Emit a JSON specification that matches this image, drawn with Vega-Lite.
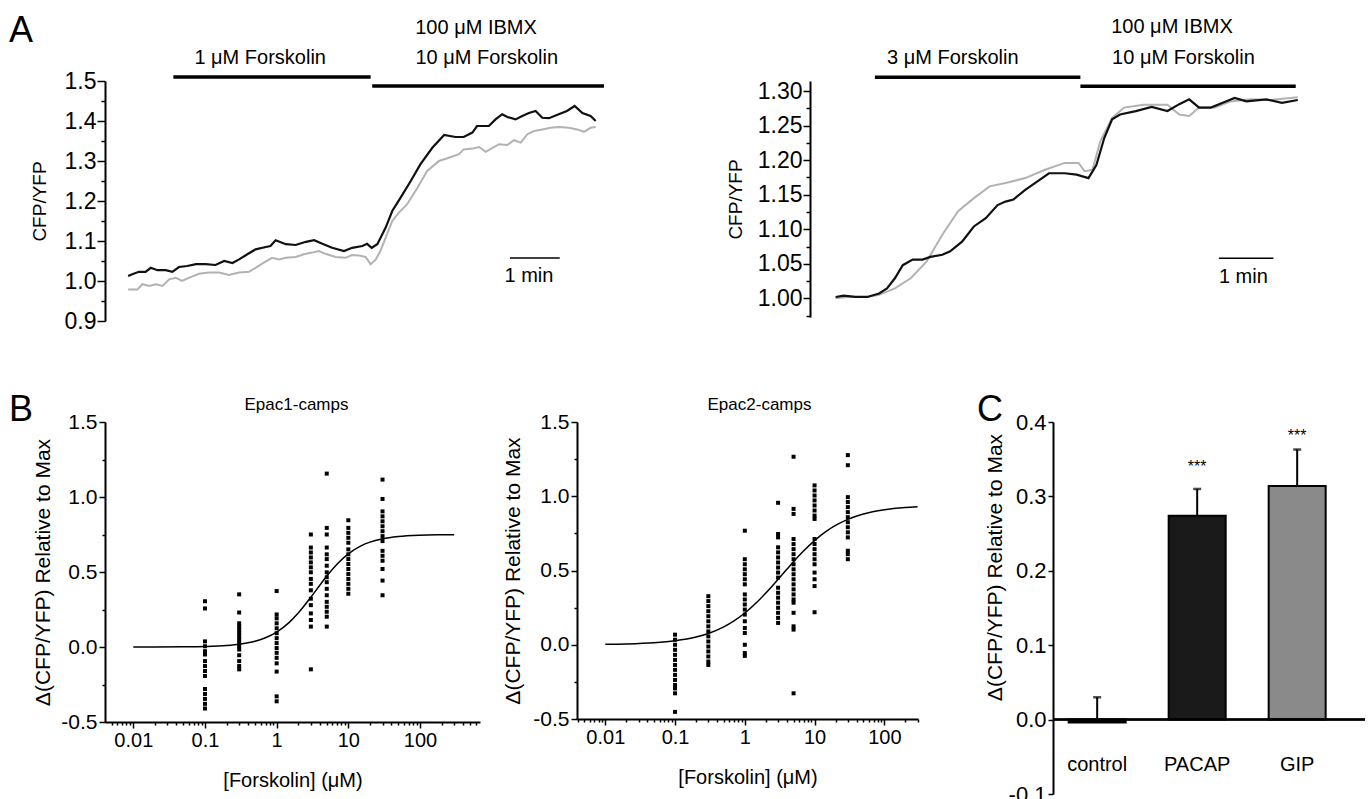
{
"$schema": "https://vega.github.io/schema/vega-lite/v6.json",
"background": "white",
"padding": {"left": 9, "top": 12, "right": 0, "bottom": 0},
"config": {
  "view": {"stroke": null},
  "font": "Liberation Sans",
  "axis": {"domainColor": "black", "tickColor": "black", "labelColor": "black", "titleColor": "black", "grid": false, "titleFontWeight": "normal", "labelFont": "Liberation Sans", "titleFont": "Liberation Sans", "domainWidth": 2, "tickWidth": 1.5, "labelOverlap": false, "labelFlush": false, "labelBound": false},
  "title": {"fontWeight": "normal", "color": "black", "font": "Liberation Sans"},
  "text": {"font": "Liberation Sans", "color": "black"}
},
"datasets": {
  "a1k": [{"t":-0.05,"v":1.0125},{"t":0.03,"v":1.017},{"t":0.16,"v":1.023},{"t":0.29,"v":1.023},{"t":0.39,"v":1.033},{"t":0.52,"v":1.027},{"t":0.68,"v":1.027},{"t":0.81,"v":1.023},{"t":0.94,"v":1.035},{"t":1.10,"v":1.0375},{"t":1.27,"v":1.042},{"t":1.46,"v":1.042},{"t":1.65,"v":1.04},{"t":1.82,"v":1.05},{"t":1.98,"v":1.045},{"t":2.11,"v":1.054},{"t":2.27,"v":1.067},{"t":2.43,"v":1.079},{"t":2.63,"v":1.085},{"t":2.72,"v":1.0875},{"t":2.82,"v":1.102},{"t":3.02,"v":1.092},{"t":3.21,"v":1.09},{"t":3.41,"v":1.098},{"t":3.57,"v":1.102},{"t":3.73,"v":1.093},{"t":3.92,"v":1.083},{"t":4.15,"v":1.075},{"t":4.31,"v":1.083},{"t":4.51,"v":1.0875},{"t":4.60,"v":1.093},{"t":4.69,"v":1.083},{"t":4.80,"v":1.092},{"t":4.96,"v":1.133},{"t":5.09,"v":1.175},{"t":5.25,"v":1.208},{"t":5.45,"v":1.25},{"t":5.64,"v":1.292},{"t":5.87,"v":1.333},{"t":6.10,"v":1.365},{"t":6.32,"v":1.36},{"t":6.48,"v":1.36},{"t":6.65,"v":1.371},{"t":6.74,"v":1.3875},{"t":6.97,"v":1.3875},{"t":7.10,"v":1.404},{"t":7.23,"v":1.417},{"t":7.33,"v":1.41},{"t":7.49,"v":1.404},{"t":7.62,"v":1.4125},{"t":7.75,"v":1.42},{"t":7.88,"v":1.425},{"t":8.01,"v":1.408},{"t":8.14,"v":1.407},{"t":8.33,"v":1.417},{"t":8.49,"v":1.425},{"t":8.64,"v":1.4375},{"t":8.79,"v":1.42},{"t":8.95,"v":1.4125},{"t":9.05,"v":1.40}],
  "a1g": [{"t":-0.05,"v":0.979},{"t":0.13,"v":0.979},{"t":0.23,"v":0.992},{"t":0.36,"v":0.9875},{"t":0.49,"v":0.992},{"t":0.62,"v":0.9875},{"t":0.75,"v":1.004},{"t":0.88,"v":1.008},{"t":1.0,"v":1.0},{"t":1.13,"v":1.008},{"t":1.33,"v":1.018},{"t":1.52,"v":1.021},{"t":1.72,"v":1.021},{"t":1.91,"v":1.015},{"t":2.11,"v":1.021},{"t":2.30,"v":1.023},{"t":2.43,"v":1.033},{"t":2.59,"v":1.046},{"t":2.75,"v":1.058},{"t":2.89,"v":1.054},{"t":3.02,"v":1.058},{"t":3.21,"v":1.06},{"t":3.37,"v":1.067},{"t":3.53,"v":1.071},{"t":3.66,"v":1.075},{"t":3.79,"v":1.068},{"t":3.99,"v":1.06},{"t":4.18,"v":1.058},{"t":4.31,"v":1.065},{"t":4.44,"v":1.064},{"t":4.57,"v":1.06},{"t":4.67,"v":1.042},{"t":4.77,"v":1.054},{"t":4.86,"v":1.075},{"t":4.99,"v":1.117},{"t":5.09,"v":1.15},{"t":5.22,"v":1.171},{"t":5.38,"v":1.192},{"t":5.58,"v":1.233},{"t":5.77,"v":1.275},{"t":6.0,"v":1.30},{"t":6.19,"v":1.308},{"t":6.39,"v":1.317},{"t":6.48,"v":1.329},{"t":6.65,"v":1.331},{"t":6.78,"v":1.335},{"t":6.91,"v":1.323},{"t":7.04,"v":1.333},{"t":7.17,"v":1.342},{"t":7.33,"v":1.34},{"t":7.46,"v":1.352},{"t":7.59,"v":1.346},{"t":7.72,"v":1.367},{"t":7.85,"v":1.375},{"t":8.01,"v":1.379},{"t":8.17,"v":1.383},{"t":8.33,"v":1.385},{"t":8.53,"v":1.383},{"t":8.69,"v":1.379},{"t":8.82,"v":1.373},{"t":8.95,"v":1.383},{"t":9.05,"v":1.385}],
  "a1bars": [{"t0":0.83,"t1":4.67,"y":1.51},{"t0":4.70,"t1":9.21,"y":1.4875}],
  "a1text": [{"t":2.52,"y":1.5575,"label":"1 μM Forskolin"},{"t":6.72,"y":1.6325,"label":"100 μM IBMX"},{"t":6.93,"y":1.5575,"label":"10 μM Forskolin"},{"t":7.75,"y":1.0125,"label":"1 min"}],
  "a1scale": [{"t0":7.38,"t1":8.35,"y":1.0575}],
  "a2k": [{"t":0,"v":1.002},{"t":0.145,"v":1.004},{"t":0.362,"v":1.002},{"t":0.58,"v":1.002},{"t":0.797,"v":1.007},{"t":0.942,"v":1.0145},{"t":1.087,"v":1.029},{"t":1.232,"v":1.048},{"t":1.413,"v":1.056},{"t":1.594,"v":1.056},{"t":1.739,"v":1.06},{"t":1.957,"v":1.063},{"t":2.101,"v":1.068},{"t":2.319,"v":1.082},{"t":2.536,"v":1.104},{"t":2.754,"v":1.116},{"t":2.971,"v":1.135},{"t":3.116,"v":1.14},{"t":3.261,"v":1.143},{"t":3.478,"v":1.157},{"t":3.696,"v":1.169},{"t":3.913,"v":1.181},{"t":4.203,"v":1.181},{"t":4.42,"v":1.179},{"t":4.638,"v":1.174},{"t":4.783,"v":1.193},{"t":4.928,"v":1.232},{"t":5.072,"v":1.259},{"t":5.217,"v":1.266},{"t":5.507,"v":1.271},{"t":5.797,"v":1.277},{"t":6.087,"v":1.271},{"t":6.304,"v":1.281},{"t":6.486,"v":1.288},{"t":6.667,"v":1.276},{"t":6.884,"v":1.276},{"t":7.101,"v":1.283},{"t":7.319,"v":1.29},{"t":7.536,"v":1.285},{"t":7.899,"v":1.288},{"t":8.188,"v":1.283},{"t":8.478,"v":1.287}],
  "a2g": [{"t":0,"v":1.0},{"t":0.217,"v":1.002},{"t":0.58,"v":1.002},{"t":0.797,"v":1.005},{"t":1.087,"v":1.0145},{"t":1.377,"v":1.029},{"t":1.667,"v":1.053},{"t":1.957,"v":1.092},{"t":2.246,"v":1.126},{"t":2.536,"v":1.145},{"t":2.826,"v":1.162},{"t":3.116,"v":1.167},{"t":3.478,"v":1.174},{"t":3.841,"v":1.186},{"t":4.203,"v":1.196},{"t":4.457,"v":1.196},{"t":4.565,"v":1.184},{"t":4.71,"v":1.186},{"t":4.855,"v":1.227},{"t":5.072,"v":1.261},{"t":5.29,"v":1.276},{"t":5.652,"v":1.28},{"t":6.087,"v":1.28},{"t":6.304,"v":1.266},{"t":6.486,"v":1.264},{"t":6.667,"v":1.276},{"t":6.957,"v":1.276},{"t":7.246,"v":1.285},{"t":7.609,"v":1.288},{"t":7.971,"v":1.287},{"t":8.478,"v":1.291}],
  "a2bars": [{"t0":0.72,"t1":4.49,"y":1.320},{"t0":4.49,"t1":8.44,"y":1.307}],
  "a2text": [{"t":2.15,"y":1.348,"label":"3 μM Forskolin"},{"t":6.17,"y":1.393,"label":"100 μM IBMX"},{"t":6.38,"y":1.348,"label":"10 μM Forskolin"},{"t":7.48,"y":1.031,"label":"1 min"}],
  "a2scale": [{"t0":7.03,"t1":8.03,"y":1.058}],
  "b1pts": [
    {"c":0.1,"v":0.305},{"c":0.1,"v":0.257},{"c":0.1,"v":0.0375},{"c":0.1,"v":0.005},{"c":0.1,"v":-0.028},{"c":0.1,"v":-0.05},{"c":0.1,"v":-0.094},{"c":0.1,"v":-0.127},{"c":0.1,"v":-0.16},{"c":0.1,"v":-0.193},{"c":0.1,"v":-0.28},{"c":0.1,"v":-0.313},{"c":0.1,"v":-0.346},{"c":0.1,"v":-0.379},{"c":0.1,"v":-0.41},
    {"c":0.3,"v":0.351},{"c":0.3,"v":0.23},{"c":0.3,"v":0.158},{"c":0.3,"v":0.136},{"c":0.3,"v":0.114},{"c":0.3,"v":0.092},{"c":0.3,"v":0.07},{"c":0.3,"v":0.048},{"c":0.3,"v":0.026},{"c":0.3,"v":0.005},{"c":0.3,"v":-0.017},{"c":0.3,"v":-0.055},{"c":0.3,"v":-0.094},{"c":0.3,"v":-0.127},{"c":0.3,"v":-0.149},
    {"c":1,"v":0.373},{"c":1,"v":0.217},{"c":1,"v":0.191},{"c":1,"v":0.158},{"c":1,"v":0.125},{"c":1,"v":0.092},{"c":1,"v":0.059},{"c":1,"v":0.026},{"c":1,"v":-0.007},{"c":1,"v":-0.039},{"c":1,"v":-0.072},{"c":1,"v":-0.109},{"c":1,"v":-0.164},{"c":1,"v":-0.329},{"c":1,"v":-0.362},
    {"c":3,"v":0.75},{"c":3,"v":0.663},{"c":3,"v":0.63},{"c":3,"v":0.597},{"c":3,"v":0.564},{"c":3,"v":0.531},{"c":3,"v":0.498},{"c":3,"v":0.454},{"c":3,"v":0.421},{"c":3,"v":0.378},{"c":3,"v":0.322},{"c":3,"v":0.279},{"c":3,"v":0.224},{"c":3,"v":0.18},{"c":3,"v":0.136},{"c":3,"v":-0.149},
    {"c":5,"v":1.156},{"c":5,"v":0.794},{"c":5,"v":0.75},{"c":5,"v":0.663},{"c":5,"v":0.618},{"c":5,"v":0.586},{"c":5,"v":0.542},{"c":5,"v":0.498},{"c":5,"v":0.465},{"c":5,"v":0.432},{"c":5,"v":0.388},{"c":5,"v":0.345},{"c":5,"v":0.301},{"c":5,"v":0.268},{"c":5,"v":0.235},{"c":5,"v":0.202},{"c":5,"v":0.136},
    {"c":10,"v":0.845},{"c":10,"v":0.794},{"c":10,"v":0.761},{"c":10,"v":0.728},{"c":10,"v":0.695},{"c":10,"v":0.651},{"c":10,"v":0.618},{"c":10,"v":0.586},{"c":10,"v":0.553},{"c":10,"v":0.52},{"c":10,"v":0.487},{"c":10,"v":0.454},{"c":10,"v":0.421},{"c":10,"v":0.388},{"c":10,"v":0.355},
    {"c":30,"v":1.116},{"c":30,"v":0.987},{"c":30,"v":0.904},{"c":30,"v":0.871},{"c":30,"v":0.838},{"c":30,"v":0.805},{"c":30,"v":0.772},{"c":30,"v":0.739},{"c":30,"v":0.706},{"c":30,"v":0.641},{"c":30,"v":0.608},{"c":30,"v":0.575},{"c":30,"v":0.52},{"c":30,"v":0.443},{"c":30,"v":0.345}],
  "b1fit": [{"c":0.01,"v":0.0001},{"c":0.02,"v":0.0003},{"c":0.05,"v":0.0013},{"c":0.1,"v":0.0036},{"c":0.2,"v":0.0101},{"c":0.3,"v":0.0183},{"c":0.5,"v":0.0384},{"c":0.7,"v":0.0616},{"c":1,"v":0.0993},{"c":1.5,"v":0.164},{"c":2,"v":0.226},{"c":3,"v":0.332},{"c":4,"v":0.412},{"c":5,"v":0.473},{"c":7,"v":0.554},{"c":10,"v":0.621},{"c":15,"v":0.674},{"c":20,"v":0.699},{"c":30,"v":0.721},{"c":50,"v":0.736},{"c":100,"v":0.745},{"c":200,"v":0.748},{"c":300,"v":0.749}],
  "b2pts": [
    {"c":0.1,"v":0.068},{"c":0.1,"v":0.034},{"c":0.1,"v":0.0},{"c":0.1,"v":-0.034},{"c":0.1,"v":-0.068},{"c":0.1,"v":-0.102},{"c":0.1,"v":-0.136},{"c":0.1,"v":-0.169},{"c":0.1,"v":-0.203},{"c":0.1,"v":-0.237},{"c":0.1,"v":-0.271},{"c":0.1,"v":-0.294},{"c":0.1,"v":-0.327},{"c":0.1,"v":-0.452},
    {"c":0.3,"v":0.327},{"c":0.3,"v":0.294},{"c":0.3,"v":0.26},{"c":0.3,"v":0.226},{"c":0.3,"v":0.192},{"c":0.3,"v":0.158},{"c":0.3,"v":0.124},{"c":0.3,"v":0.09},{"c":0.3,"v":0.056},{"c":0.3,"v":0.022},{"c":0.3,"v":-0.012},{"c":0.3,"v":-0.045},{"c":0.3,"v":-0.079},{"c":0.3,"v":-0.113},{"c":0.3,"v":-0.136},
    {"c":1,"v":0.768},{"c":1,"v":0.576},{"c":1,"v":0.542},{"c":1,"v":0.508},{"c":1,"v":0.475},{"c":1,"v":0.441},{"c":1,"v":0.407},{"c":1,"v":0.339},{"c":1,"v":0.305},{"c":1,"v":0.271},{"c":1,"v":0.237},{"c":1,"v":0.203},{"c":1,"v":0.158},{"c":1,"v":0.113},{"c":1,"v":0.079},{"c":1,"v":0.0},{"c":1,"v":-0.056},{"c":1,"v":-0.075},
    {"c":3,"v":0.956},{"c":3,"v":0.746},{"c":3,"v":0.723},{"c":3,"v":0.656},{"c":3,"v":0.622},{"c":3,"v":0.588},{"c":3,"v":0.554},{"c":3,"v":0.52},{"c":3,"v":0.486},{"c":3,"v":0.452},{"c":3,"v":0.384},{"c":3,"v":0.35},{"c":3,"v":0.317},{"c":3,"v":0.283},{"c":3,"v":0.249},{"c":3,"v":0.215},{"c":3,"v":0.181},{"c":3,"v":0.147},
    {"c":5,"v":1.266},{"c":5,"v":0.915},{"c":5,"v":0.881},{"c":5,"v":0.712},{"c":5,"v":0.678},{"c":5,"v":0.644},{"c":5,"v":0.61},{"c":5,"v":0.576},{"c":5,"v":0.542},{"c":5,"v":0.508},{"c":5,"v":0.475},{"c":5,"v":0.441},{"c":5,"v":0.407},{"c":5,"v":0.373},{"c":5,"v":0.339},{"c":5,"v":0.305},{"c":5,"v":0.283},{"c":5,"v":0.215},{"c":5,"v":0.124},{"c":5,"v":0.102},{"c":5,"v":-0.327},
    {"c":10,"v":1.073},{"c":10,"v":1.039},{"c":10,"v":1.005},{"c":10,"v":0.972},{"c":10,"v":0.938},{"c":10,"v":0.904},{"c":10,"v":0.87},{"c":10,"v":0.847},{"c":10,"v":0.712},{"c":10,"v":0.678},{"c":10,"v":0.644},{"c":10,"v":0.61},{"c":10,"v":0.576},{"c":10,"v":0.542},{"c":10,"v":0.486},{"c":10,"v":0.441},{"c":10,"v":0.395},{"c":10,"v":0.219},
    {"c":30,"v":1.277},{"c":30,"v":1.209},{"c":30,"v":0.994},{"c":30,"v":0.961},{"c":30,"v":0.927},{"c":30,"v":0.893},{"c":30,"v":0.859},{"c":30,"v":0.825},{"c":30,"v":0.791},{"c":30,"v":0.757},{"c":30,"v":0.723},{"c":30,"v":0.633},{"c":30,"v":0.61},{"c":30,"v":0.576}],
  "b2fit": [{"c":0.01,"v":0.0028},{"c":0.02,"v":0.0055},{"c":0.05,"v":0.0136},{"c":0.1,"v":0.0269},{"c":0.2,"v":0.0522},{"c":0.3,"v":0.0762},{"c":0.5,"v":0.1205},{"c":0.7,"v":0.1605},{"c":1,"v":0.2136},{"c":1.5,"v":0.2878},{"c":2,"v":0.3481},{"c":3,"v":0.4406},{"c":4,"v":0.5081},{"c":5,"v":0.5595},{"c":7,"v":0.6327},{"c":10,"v":0.7015},{"c":15,"v":0.7663},{"c":20,"v":0.8034},{"c":30,"v":0.8443},{"c":50,"v":0.8801},{"c":100,"v":0.9091},{"c":200,"v":0.9243},{"c":300,"v":0.9295}],
  "cbars": [{"cond":"control","mean":-0.004,"upper":0.03,"sig":"","sy":0.1},{"cond":"PACAP","mean":0.274,"upper":0.31,"sig":"***","sy":0.34},{"cond":"GIP","mean":0.314,"upper":0.363,"sig":"***","sy":0.381}]
},
"spacing": 59,
"vconcat": [
  {
    "hconcat": [
      {
        "width": 501, "height": 240,
        "title": {"text": "A", "fontSize": 36, "anchor": "start", "frame": "group", "dx": -96, "offset": -32},
        "layer": [
          {"data": {"name": "a1g"}, "mark": {"type": "line", "color": "#b2b2b2", "strokeWidth": 2},
           "encoding": {
             "x": {"field": "t", "type": "quantitative", "scale": {"domain": [-0.5, 9.25], "nice": false, "zero": false}, "axis": null},
             "y": {"field": "v", "type": "quantitative", "scale": {"domain": [0.9, 1.5], "nice": false, "zero": false},
                   "axis": {"title": "CFP/YFP", "titleFontSize": 19, "titlePadding": 15, "labelFontSize": 23, "labelPadding": 1, "labelOverlap": false, "tickCount": 200,
                            "values": [0.9,0.95,1.0,1.05,1.1,1.15,1.2,1.25,1.3,1.35,1.4,1.45,1.5],
                            "labelExpr": "abs(datum.value*10-round(datum.value*10))<0.01 ? format(datum.value,'.1f') : ''",
                            "tickSize": {"condition": {"test": "abs(datum.value*10-round(datum.value*10))<0.01", "value": 8}, "value": 4}}}}},
          {"data": {"name": "a1k"}, "mark": {"type": "line", "color": "#111111", "strokeWidth": 2.2},
           "encoding": {"x": {"field": "t", "type": "quantitative"}, "y": {"field": "v", "type": "quantitative"}}},
          {"data": {"name": "a1bars"}, "mark": {"type": "rule", "color": "black", "strokeWidth": 3.5},
           "encoding": {"x": {"field": "t0", "type": "quantitative"}, "x2": {"field": "t1"}, "y": {"field": "y", "type": "quantitative"}}},
          {"data": {"name": "a1scale"}, "mark": {"type": "rule", "color": "black", "strokeWidth": 1.5},
           "encoding": {"x": {"field": "t0", "type": "quantitative"}, "x2": {"field": "t1"}, "y": {"field": "y", "type": "quantitative"}}},
          {"data": {"name": "a1text"}, "mark": {"type": "text", "fontSize": 20},
           "encoding": {"x": {"field": "t", "type": "quantitative"}, "y": {"field": "y", "type": "quantitative"}, "text": {"field": "label"}}}
        ]
      },
      {
        "width": 489, "height": 236,
        "layer": [
          {"data": {"name": "a2g"}, "mark": {"type": "line", "color": "#b2b2b2", "strokeWidth": 2},
           "encoding": {
             "x": {"field": "t", "type": "quantitative", "scale": {"domain": [-0.47, 8.5], "nice": false, "zero": false}, "axis": null},
             "y": {"field": "v", "type": "quantitative", "scale": {"domain": [0.973, 1.3145], "nice": false, "zero": false},
                   "axis": {"title": "CFP/YFP", "titleFontSize": 19, "titlePadding": 12, "labelFontSize": 23, "labelPadding": 1, "labelOverlap": false, "tickCount": 200,
                            "values": [0.975,1.0,1.025,1.05,1.075,1.1,1.125,1.15,1.175,1.2,1.225,1.25,1.275,1.3],
                            "labelExpr": "abs(datum.value*20-round(datum.value*20))<0.01 ? format(datum.value,'.2f') : ''",
                            "tickSize": {"condition": {"test": "abs(datum.value*20-round(datum.value*20))<0.01", "value": 7}, "value": 4}}}}},
          {"data": {"name": "a2k"}, "mark": {"type": "line", "color": "#111111", "strokeWidth": 2.2},
           "encoding": {"x": {"field": "t", "type": "quantitative"}, "y": {"field": "v", "type": "quantitative"}}},
          {"data": {"name": "a2bars"}, "mark": {"type": "rule", "color": "black", "strokeWidth": 3.5},
           "encoding": {"x": {"field": "t0", "type": "quantitative"}, "x2": {"field": "t1"}, "y": {"field": "y", "type": "quantitative"}}},
          {"data": {"name": "a2scale"}, "mark": {"type": "rule", "color": "black", "strokeWidth": 1.5},
           "encoding": {"x": {"field": "t0", "type": "quantitative"}, "x2": {"field": "t1"}, "y": {"field": "y", "type": "quantitative"}}},
          {"data": {"name": "a2text"}, "mark": {"type": "text", "fontSize": 20},
           "encoding": {"x": {"field": "t", "type": "quantitative"}, "y": {"field": "y", "type": "quantitative"}, "text": {"field": "label"}}}
        ]
      }
    ],
    "spacing": 204,
    "bounds": "flush"
  },
  {
    "hconcat": [
      {
        "title": {"text": "B", "fontSize": 36, "anchor": "start", "frame": "group", "dx": -96, "dy": 37},
        "hconcat": [
          {
            "width": 375, "height": 300,
            "title": {"text": "Epac1-camps", "fontSize": 17, "anchor": "middle", "frame": "group", "offset": -3, "dx": 4},
            "layer": [
              {"data": {"name": "b1fit"}, "mark": {"type": "line", "color": "black", "strokeWidth": 1.5, "interpolate": "monotone"},
               "encoding": {
                 "x": {"field": "c", "type": "quantitative", "scale": {"type": "log", "domain": [0.00403, 687], "nice": false},
                       "axis": {"title": "[Forskolin] (μM)", "titleFontSize": 20, "titlePadding": 20, "labelFontSize": 20, "labelPadding": 2, "labelOverlap": false, "tickCount": 200,
                                "values": [0.005,0.006,0.007,0.008,0.009,0.01,0.02,0.03,0.04,0.05,0.06,0.07,0.08,0.09,0.1,0.2,0.3,0.4,0.5,0.6,0.7,0.8,0.9,1,2,3,4,5,6,7,8,9,10,20,30,40,50,60,70,80,90,100,200,300,400,500,600],
                                "labelExpr": "abs(log(datum.value)/LN10-round(log(datum.value)/LN10))<0.001 ? format(datum.value,'~g') : ''",
                                "tickSize": {"condition": {"test": "abs(log(datum.value)/LN10-round(log(datum.value)/LN10))<0.001", "value": 6}, "value": 3}}},
                 "y": {"field": "v", "type": "quantitative", "scale": {"domain": [-0.5, 1.5], "nice": false, "zero": false},
                       "axis": {"title": "Δ(CFP/YFP) Relative to Max", "titleFontSize": 21, "titlePadding": 7, "labelFontSize": 21, "labelPadding": 2, "labelOverlap": false, "tickCount": 200,
                                "values": [-0.5,-0.25,0,0.25,0.5,0.75,1,1.25,1.5],
                                "labelExpr": "abs(datum.value*2-round(datum.value*2))<0.01 ? replace(format(datum.value,'.1f'),'−','-') : ''",
                                "tickSize": {"condition": {"test": "abs(datum.value*2-round(datum.value*2))<0.01", "value": 6}, "value": 3}}}}},
              {"data": {"name": "b1pts"}, "mark": {"type": "point", "shape": "square", "filled": true, "size": 16, "color": "black", "opacity": 1},
               "encoding": {"x": {"field": "c", "type": "quantitative"}, "y": {"field": "v", "type": "quantitative"}}}
            ]
          },
          {
            "width": 341, "height": 297,
            "title": {"text": "Epac2-camps", "fontSize": 17, "anchor": "middle", "frame": "group", "offset": -3, "dx": 12},
            "layer": [
              {"data": {"name": "b2fit"}, "mark": {"type": "line", "color": "black", "strokeWidth": 1.5, "interpolate": "monotone"},
               "encoding": {
                 "x": {"field": "c", "type": "quantitative", "scale": {"type": "log", "domain": [0.00393, 304], "nice": false},
                       "axis": {"title": "[Forskolin] (μM)", "titleFontSize": 20, "titlePadding": 20, "labelFontSize": 20, "labelPadding": 2, "labelOverlap": false, "tickCount": 200,
                                "values": [0.004,0.005,0.006,0.007,0.008,0.009,0.01,0.02,0.03,0.04,0.05,0.06,0.07,0.08,0.09,0.1,0.2,0.3,0.4,0.5,0.6,0.7,0.8,0.9,1,2,3,4,5,6,7,8,9,10,20,30,40,50,60,70,80,90,100,200,300],
                                "labelExpr": "abs(log(datum.value)/LN10-round(log(datum.value)/LN10))<0.001 ? format(datum.value,'~g') : ''",
                                "tickSize": {"condition": {"test": "abs(log(datum.value)/LN10-round(log(datum.value)/LN10))<0.001", "value": 6}, "value": 3}}},
                 "y": {"field": "v", "type": "quantitative", "scale": {"domain": [-0.5, 1.5], "nice": false, "zero": false},
                       "axis": {"title": "Δ(CFP/YFP) Relative to Max", "titleFontSize": 21, "titlePadding": 9, "labelFontSize": 21, "labelPadding": 2, "labelOverlap": false, "tickCount": 200,
                                "values": [-0.5,-0.25,0,0.25,0.5,0.75,1,1.25,1.5],
                                "labelExpr": "abs(datum.value*2-round(datum.value*2))<0.01 ? replace(format(datum.value,'.1f'),'−','-') : ''",
                                "tickSize": {"condition": {"test": "abs(datum.value*2-round(datum.value*2))<0.01", "value": 6}, "value": 3}}}}},
              {"data": {"name": "b2pts"}, "mark": {"type": "point", "shape": "square", "filled": true, "size": 16, "color": "black", "opacity": 1},
               "encoding": {"x": {"field": "c", "type": "quantitative"}, "y": {"field": "v", "type": "quantitative"}}}
            ]
          }
        ],
        "spacing": 97,
        "bounds": "flush"
      },
      {
        "width": 312, "height": 372,
        "title": {"text": "C", "fontSize": 36, "anchor": "start", "frame": "group", "dx": -76, "offset": -18},
        "data": {"name": "cbars"},
        "layer": [
          {"mark": {"type": "bar", "stroke": "black", "strokeWidth": 2},
           "encoding": {
             "x": {"field": "cond", "type": "nominal", "sort": ["control", "PACAP", "GIP"],
                   "scale": {"domain": ["control", "PACAP", "GIP"], "paddingInner": 0.43, "paddingOuter": 0.275, "align": 0.285},
                   "axis": {"title": null, "orient": "bottom", "offset": -42, "domain": false, "ticks": false, "labelFontSize": 20, "labelPadding": 2, "labelAngle": 0}},
             "y": {"field": "mean", "type": "quantitative", "scale": {"domain": [-0.1, 0.4], "nice": false, "zero": false},
                   "axis": {"title": "Δ(CFP/YFP) Relative to Max", "titleFontSize": 21, "titlePadding": 3, "titleY": 145, "labelFontSize": 22, "labelPadding": 2, "tickSize": 5, "labelOverlap": false, "tickCount": 200,
                            "values": [-0.1, 0, 0.1, 0.2, 0.3, 0.4], "labelExpr": "replace(format(datum.value,'.1f'),'−','-')"}},
             "fill": {"field": "cond", "type": "nominal", "scale": {"domain": ["control", "PACAP", "GIP"], "range": ["#000000", "#1a1a1a", "#8a8a8a"]}, "legend": null}}},
          {"mark": {"type": "rule", "color": "black", "strokeWidth": 2},
           "encoding": {"y": {"datum": 0, "type": "quantitative"}}},
          {"mark": {"type": "rule", "color": "black", "strokeWidth": 2},
           "encoding": {"x": {"field": "cond", "type": "nominal", "sort": ["control", "PACAP", "GIP"]}, "y": {"field": "mean", "type": "quantitative"}, "y2": {"field": "upper"}}},
          {"mark": {"type": "tick", "orient": "horizontal", "size": 8, "thickness": 2.5, "color": "black"},
           "encoding": {"x": {"field": "cond", "type": "nominal", "sort": ["control", "PACAP", "GIP"]}, "y": {"field": "upper", "type": "quantitative"}}},
          {"mark": {"type": "text", "fontSize": 16},
           "encoding": {"x": {"field": "cond", "type": "nominal", "sort": ["control", "PACAP", "GIP"]}, "y": {"field": "sy", "type": "quantitative"}, "text": {"field": "sig"}}}
        ]
      }
    ],
    "spacing": 56
  }
]
}
